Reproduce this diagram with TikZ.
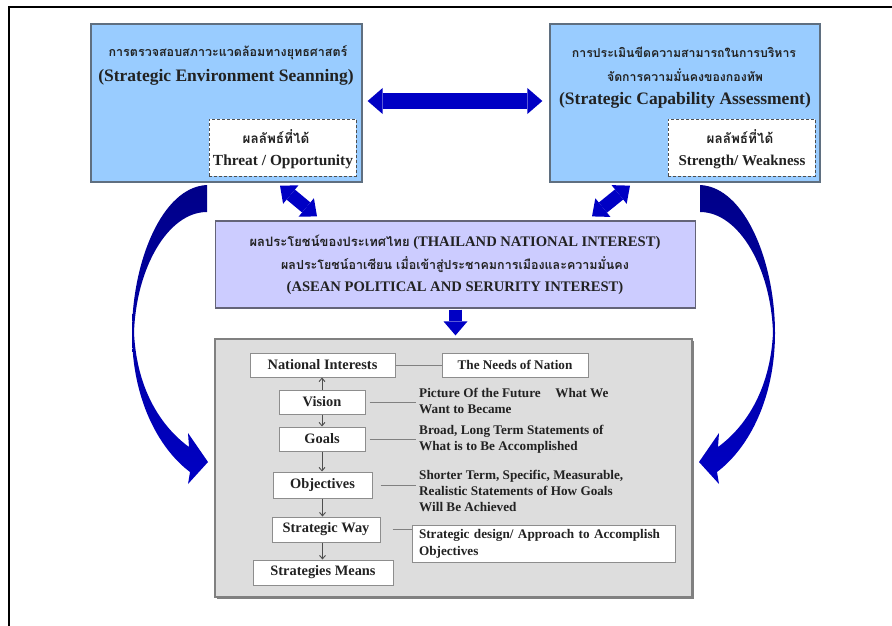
\documentclass[tikz,border=0pt]{standalone}
\usepackage{fontspec}
\setmainfont{Liberation Serif}
\newfontfamily\thaifont[Script=Thai]{Loma}
\usetikzlibrary{arrows.meta,calc}
\newcommand\myfs[2]{\fontsize{#1}{#2}\selectfont}
\definecolor{topblue}{HTML}{99CCFF}
\definecolor{topedge}{HTML}{5F6F80}
\definecolor{midfill}{HTML}{CCCCFF}
\definecolor{midedge}{HTML}{646478}
\definecolor{grayfill}{HTML}{DDDDDD}
\definecolor{grayedge}{HTML}{808080}
\definecolor{arrblue}{HTML}{0000C4}
\definecolor{arrdark}{HTML}{000088}
\definecolor{ink}{HTML}{222222}
\begin{document}
\begin{tikzpicture}[x=1pt,y=-1pt,
  topbox/.style={draw=topedge, fill=topblue, line width=1.3pt, inner sep=0pt},
  dashbox/.style={draw=ink!80, fill=white, dash pattern=on 3pt off 2pt, line width=1pt, inner sep=0pt},
  midbox/.style={draw=midedge, fill=midfill, line width=1.2pt, inner sep=0pt},
  graybox/.style={draw=grayedge, fill=grayfill, line width=1.2pt, inner sep=0pt},
  ibox/.style={draw=grayedge!90, fill=white, line width=1pt, inner sep=0pt, text=ink, font=\bfseries\myfs{14.4}{17}},
  thaitxt/.style={inner sep=0pt, text=ink, font=\thaifont\bfseries\myfs{#1}{16}},
  entxt/.style={inner sep=0pt, text=ink, font=\bfseries\myfs{#1}{18}},
  desc/.style={inner sep=3pt, align=left, anchor=west, text=ink, font=\bfseries\myfs{13.2}{16}},
  conn/.style={draw=grayedge, line width=1pt},
  flow/.style={draw=ink!80, line width=0.9pt, -{Straight Barb[length=3.5pt,width=6pt]}},
  bigarr/.style={draw=arrblue, line width=#1},
  bendarr/.pic={
    \shade[top color=arrdark, bottom color=arrblue]
      (207,185) .. controls (162,187) and (132,262) .. (132,333)
      .. controls (132,398) and (158,448) .. (190,472)
      -- (188,484) -- (208,462) -- (188,433) -- (189,447)
      .. controls (163,428) and (137,392) .. (134,333)
      .. controls (136,268) and (168,212) .. (207,212) -- cycle;
  }
]
\useasboundingbox (0,0) rectangle (892,626);
\fill[white] (0,0) rectangle (892,626);
\draw[line width=1.8pt, black] (9,626) -- (9,7) -- (892,7);

% top boxes
\node[topbox, minimum width=271pt, minimum height=158pt] (TL) at (226.5,103) {};
\node[topbox, minimum width=270pt, minimum height=158pt] (TR) at (685,103) {};
\node[dashbox, minimum width=147pt, minimum height=57pt] (TLd) at (282.5,147.5) {};
\node[dashbox, minimum width=147pt, minimum height=57pt] (TRd) at (741.5,147.5) {};

\node[thaitxt=12.5] (TLth) at (228,53) {การตรวจสอบสภาวะแวดล้อมทางยุทธศาสตร์};
\node[entxt=17.5] (TLen) at (226,77) {(Strategic Environment Seanning)};
\node[thaitxt=13.5] (TLdth) at (276,137) {ผลลัพธ์ที่ได้};
\node[entxt=15.4] (TLden) at (283,162) {Threat / Opportunity};

\node[thaitxt=12.3] (TRth1) at (684,52) {การประเมินขีดความสามารถในการบริหาร};
\node[thaitxt=12.3] (TRth2) at (685,75) {จัดการความมั่นคงของกองทัพ};
\node[entxt=17.5] (TRen) at (685,100) {(Strategic Capability Assessment)};
\node[thaitxt=13.5] (TRdth) at (740,137) {ผลลัพธ์ที่ได้};
\node[entxt=15] (TRden) at (742,162) {Strength/ Weakness};

% middle box
\node[midbox, minimum width=480pt, minimum height=87pt] (MB) at (455.5,264.5) {};
\node[entxt=14.6] (M1) at (455,242) {{\thaifont\myfs{13}{16}ผลประโยชน์ของประเทศไทย} (THAILAND NATIONAL INTEREST)};
\node[thaitxt=12.5] (M2) at (455,265) {ผลประโยชน์อาเซียน เมื่อเข้าสู่ประชาคมการเมืองและความมั่นคง};
\node[entxt=14.6] (M3) at (455,288) {(ASEAN POLITICAL AND SERURITY INTEREST)};

% gray box
\fill[black!50] (217,341) rectangle (694,599);
\node[graybox, minimum width=477pt, minimum height=258pt] (GB) at (453.5,468) {};

\node[ibox, minimum width=145pt, minimum height=24pt] (NI) at (322.5,365) {National Interests};
\node[ibox, minimum width=146pt, minimum height=24pt, font=\bfseries\myfs{13.2}{16}] (ND) at (515,365) {The Needs of Nation};
\node[ibox, minimum width=86pt, minimum height=24pt] (VI) at (322,402) {Vision};
\node[ibox, minimum width=86pt, minimum height=24pt] (GO) at (322,439) {Goals};
\node[ibox, minimum width=99pt, minimum height=26pt] (OB) at (322.5,485) {Objectives};
\node[ibox, minimum width=108pt, minimum height=25pt] (SW) at (326,529.5) {Strategic Way};
\node[ibox, minimum width=140pt, minimum height=25pt] (SM) at (323,572.5) {Strategies Means};
\node[ibox, minimum width=263pt, minimum height=37pt, text width=249pt, inner xsep=7pt, align=left, font=\bfseries\myfs{13.2}{17}] (SD) at (543.5,543.5) {Strategic design/ Approach to Accomplish\\Objectives};

\node[desc] (D1) at (416,401) {Picture Of the Future\hspace{1.1em}What We\\Want to Became};
\node[desc] (D2) at (416,439.5) {Broad, Long Term Statements of\\What is to Be Accomplished};
\node[desc] (D3) at (416,491) {Shorter Term, Specific, Measurable,\\Realistic Statements of How Goals\\Will Be Achieved};

\draw[conn] (NI.east) -- (ND.west);
\draw[conn, shorten <=4pt] (VI.east) -- (VI.east -| D1.west);
\draw[conn, shorten <=4pt] (GO.east) -- (GO.east -| D2.west);
\draw[conn, shorten <=8pt] (OB.east) -- (OB.east -| D3.west);
\draw[conn, shorten <=12pt] (SW.east) -- (SW.east -| SD.west);

\draw[flow] (VI.north) -- (VI.north |- NI.south);
\draw[flow] (VI.south) -- (VI.south |- GO.north);
\draw[flow] (GO.south) -- (GO.south |- OB.north);
\draw[flow] (OB.south) -- (OB.south |- SW.north);
\draw[flow] (SW.south -| OB.south) -- (OB.south |- SM.north);

% big blue arrows
\draw[bigarr=15pt, {Triangle[length=15pt,width=26pt,line width=0pt]}-{Triangle[length=15pt,width=26pt,line width=0pt]}] ($(TL.east)+(5,-2)$) -- ($(TR.west)+(-7,-2)$);
\draw[bigarr=13pt, {Triangle[length=14pt,width=24pt,line width=0pt]}-{Triangle[length=14pt,width=24pt,line width=0pt]}] ($(TL.south)+(53.5,3)$) -- ($(MB.north)+(-138.5,-4)$);
\draw[bigarr=13pt, {Triangle[length=14pt,width=24pt,line width=0pt]}-{Triangle[length=14pt,width=24pt,line width=0pt]}] ($(TR.south)+(-55,3)$) -- ($(MB.north)+(136.5,-4)$);
\draw[bigarr=13pt, -{Triangle[length=14pt,width=24pt,line width=0pt]}] ($(MB.south)+(0,1)$) -- ($(MB.south |- GB.north)+(0,-3)$);

\pic at (0,0) {bendarr};
\pic[xscale=-1] at (907,0) {bendarr};
\end{tikzpicture}
\end{document}
